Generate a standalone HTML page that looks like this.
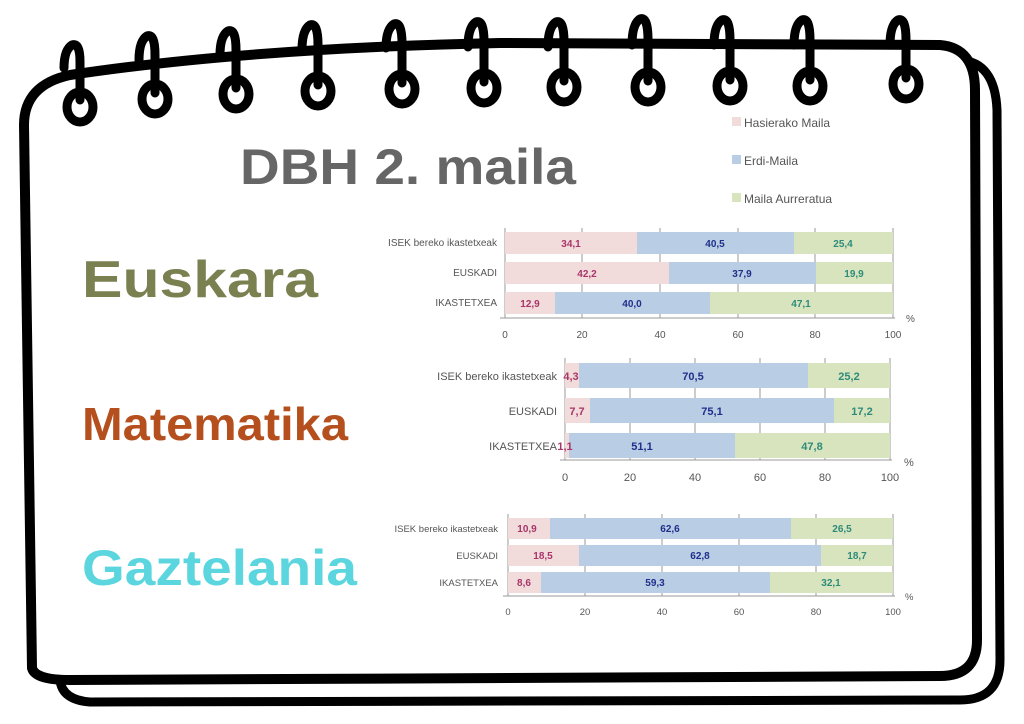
<!DOCTYPE html>
<html><head><meta charset="utf-8"><style>
html,body{margin:0;padding:0;background:#fff;}
svg{display:block;font-family:"Liberation Sans",sans-serif;}
</style></head><body>
<svg width="1024" height="724" viewBox="0 0 1024 724" xmlns="http://www.w3.org/2000/svg">
<!-- back frame -->
<path d="M960,60 Q995,62 997,110 L1000,660 Q1000,700 960,700 L90,702 Q62,700 60,680" fill="none" stroke="#000" stroke-width="9" stroke-linecap="round"/>
<!-- front frame -->
<path d="M32,668 L24,125 Q24,85 70,75 Q250,48 500,43 L940,45 Q975,48 975,90 L977,640 Q977,676 940,676 L70,680 Q35,680 32,668 Z" fill="#fff" stroke="#000" stroke-width="10" stroke-linejoin="round"/>
<!-- spirals -->
<g fill="none" stroke="#000" stroke-width="9" stroke-linecap="round">
<path d="M80,100 L80,62 Q80,42 72,45 Q64,50 64,68"/>
<ellipse cx="80" cy="107" rx="13" ry="15"/>
<path d="M155,93 L155,55 Q155,33 147,36 Q139,41 139,60"/>
<ellipse cx="155" cy="99" rx="13" ry="15"/>
<path d="M236,88 L236,50 Q236,28 228,31 Q220,36 220,55"/>
<ellipse cx="236" cy="94" rx="13" ry="15"/>
<path d="M318,85 L318,45 Q318,22 310,25 Q302,30 302,50"/>
<ellipse cx="318" cy="91" rx="13" ry="15"/>
<path d="M402,83 L402,44 Q402,21 394,24 Q386,29 386,48"/>
<ellipse cx="402" cy="89" rx="13" ry="15"/>
<path d="M484,82 L484,42 Q484,19 476,22 Q468,27 468,47"/>
<ellipse cx="484" cy="88" rx="13" ry="15"/>
<path d="M564,81 L564,42 Q564,19 556,22 Q548,27 548,47"/>
<ellipse cx="564" cy="87" rx="13" ry="15"/>
<path d="M648,81 L648,40 Q648,16 640,19 Q632,24 632,45"/>
<ellipse cx="648" cy="87" rx="13" ry="15"/>
<path d="M730,80 L730,40 Q730,17 722,20 Q714,25 714,45"/>
<ellipse cx="730" cy="86" rx="13" ry="15"/>
<path d="M810,80 L810,40 Q810,17 802,20 Q794,25 794,45"/>
<ellipse cx="810" cy="86" rx="13" ry="15"/>
<path d="M906,78 L906,40 Q906,17 898,20 Q890,25 890,45"/>
<ellipse cx="906" cy="84" rx="13" ry="15"/>
</g>
<!-- titles -->
<text x="240" y="184" font-size="50" font-weight="bold" fill="#666" textLength="336" lengthAdjust="spacingAndGlyphs">DBH 2. maila</text>
<text x="82" y="297" font-size="52" font-weight="bold" fill="#7a8050" textLength="236" lengthAdjust="spacingAndGlyphs">Euskara</text>
<text x="82" y="440" font-size="46" font-weight="bold" fill="#b5501e" textLength="266" lengthAdjust="spacingAndGlyphs">Matematika</text>
<text x="82" y="585" font-size="50" font-weight="bold" fill="#5cd6de" textLength="275" lengthAdjust="spacingAndGlyphs">Gaztelania</text>
<!-- legend -->
<g font-size="12" fill="#555">
<rect x="732" y="117" width="9" height="9" fill="#f2dcdb"/><text x="744" y="127">Hasierako Maila</text>
<rect x="732" y="155" width="9" height="9" fill="#b9cde5"/><text x="744" y="165">Erdi-Maila</text>
<rect x="732" y="193" width="9" height="9" fill="#d7e4bd"/><text x="744" y="203">Maila Aurreratua</text>
</g>
<!-- chart 1 grid -->
<g stroke="#999" stroke-width="1"><line x1="505" y1="228" x2="505" y2="318"/><line x1="500" y1="318" x2="895" y2="318"/>
<line x1="582" y1="228" x2="582" y2="318"/><line x1="660" y1="228" x2="660" y2="318"/><line x1="738" y1="228" x2="738" y2="318"/><line x1="815" y1="228" x2="815" y2="318"/><line x1="893" y1="228" x2="893" y2="318"/></g>
<g font-size="10" font-weight="bold">
<rect x="505" y="232" width="132" height="22" fill="#f2dcdb"/><rect x="637" y="232" width="157" height="22" fill="#b9cde5"/><rect x="794" y="232" width="99" height="22" fill="#d7e4bd"/>
<rect x="505" y="262" width="164" height="22" fill="#f2dcdb"/><rect x="669" y="262" width="147" height="22" fill="#b9cde5"/><rect x="816" y="262" width="77" height="22" fill="#d7e4bd"/>
<rect x="505" y="292" width="50" height="22" fill="#f2dcdb"/><rect x="555" y="292" width="155" height="22" fill="#b9cde5"/><rect x="710" y="292" width="183" height="22" fill="#d7e4bd"/>
<text x="571" y="247" fill="#a8356a" text-anchor="middle">34,1</text><text x="715" y="247" fill="#1f2f8a" text-anchor="middle">40,5</text><text x="843" y="247" fill="#2e8b7a" text-anchor="middle">25,4</text>
<text x="587" y="277" fill="#a8356a" text-anchor="middle">42,2</text><text x="742" y="277" fill="#1f2f8a" text-anchor="middle">37,9</text><text x="854" y="277" fill="#2e8b7a" text-anchor="middle">19,9</text>
<text x="530" y="307" fill="#a8356a" text-anchor="middle">12,9</text><text x="632" y="307" fill="#1f2f8a" text-anchor="middle">40,0</text><text x="801" y="307" fill="#2e8b7a" text-anchor="middle">47,1</text>
</g>
<g font-size="10" fill="#555">
<text x="497" y="246" text-anchor="end">ISEK bereko ikastetxeak</text><text x="497" y="276" text-anchor="end">EUSKADI</text><text x="497" y="306" text-anchor="end">IKASTETXEA</text>
<g text-anchor="middle"><text x="505" y="338">0</text><text x="582" y="338">20</text><text x="660" y="338">40</text><text x="738" y="338">60</text><text x="815" y="338">80</text><text x="893" y="338">100</text></g>
<text x="906" y="322">%</text></g>
<!-- chart 2 grid -->
<g stroke="#999" stroke-width="1"><line x1="565" y1="358" x2="565" y2="460"/><line x1="560" y1="460" x2="892" y2="460"/>
<line x1="630" y1="358" x2="630" y2="460"/><line x1="695" y1="358" x2="695" y2="460"/><line x1="760" y1="358" x2="760" y2="460"/><line x1="825" y1="358" x2="825" y2="460"/><line x1="890" y1="358" x2="890" y2="460"/></g>
<g font-size="11" font-weight="bold">
<rect x="565" y="363" width="14" height="25" fill="#f2dcdb"/><rect x="579" y="363" width="229" height="25" fill="#b9cde5"/><rect x="808" y="363" width="82" height="25" fill="#d7e4bd"/>
<rect x="565" y="398" width="25" height="25" fill="#f2dcdb"/><rect x="590" y="398" width="244" height="25" fill="#b9cde5"/><rect x="834" y="398" width="56" height="25" fill="#d7e4bd"/>
<rect x="565" y="433" width="4" height="25" fill="#f2dcdb"/><rect x="569" y="433" width="166" height="25" fill="#b9cde5"/><rect x="735" y="433" width="155" height="25" fill="#d7e4bd"/>
<text x="571" y="380" fill="#a8356a" text-anchor="middle">4,3</text><text x="693" y="380" fill="#1f2f8a" text-anchor="middle">70,5</text><text x="849" y="380" fill="#2e8b7a" text-anchor="middle">25,2</text>
<text x="577" y="415" fill="#a8356a" text-anchor="middle">7,7</text><text x="712" y="415" fill="#1f2f8a" text-anchor="middle">75,1</text><text x="862" y="415" fill="#2e8b7a" text-anchor="middle">17,2</text>
<text x="565" y="450" fill="#a8356a" text-anchor="middle">1,1</text><text x="642" y="450" fill="#1f2f8a" text-anchor="middle">51,1</text><text x="812" y="450" fill="#2e8b7a" text-anchor="middle">47,8</text>
</g>
<g font-size="11" fill="#555">
<text x="557" y="380" text-anchor="end">ISEK bereko ikastetxeak</text><text x="557" y="415" text-anchor="end">EUSKADI</text><text x="557" y="450" text-anchor="end">IKASTETXEA</text>
<g text-anchor="middle"><text x="565" y="481">0</text><text x="630" y="481">20</text><text x="695" y="481">40</text><text x="760" y="481">60</text><text x="825" y="481">80</text><text x="890" y="481">100</text></g>
<text x="904" y="466">%</text></g>
<!-- chart 3 grid -->
<g stroke="#999" stroke-width="1"><line x1="508" y1="514" x2="508" y2="596"/><line x1="503" y1="596" x2="895" y2="596"/>
<line x1="585" y1="514" x2="585" y2="596"/><line x1="662" y1="514" x2="662" y2="596"/><line x1="739" y1="514" x2="739" y2="596"/><line x1="816" y1="514" x2="816" y2="596"/><line x1="893" y1="514" x2="893" y2="596"/></g>
<g font-size="10" font-weight="bold">
<rect x="508" y="518" width="42" height="21" fill="#f2dcdb"/><rect x="550" y="518" width="241" height="21" fill="#b9cde5"/><rect x="791" y="518" width="102" height="21" fill="#d7e4bd"/>
<rect x="508" y="545" width="71" height="21" fill="#f2dcdb"/><rect x="579" y="545" width="242" height="21" fill="#b9cde5"/><rect x="821" y="545" width="72" height="21" fill="#d7e4bd"/>
<rect x="508" y="572" width="33" height="21" fill="#f2dcdb"/><rect x="541" y="572" width="229" height="21" fill="#b9cde5"/><rect x="770" y="572" width="123" height="21" fill="#d7e4bd"/>
<text x="527" y="532" fill="#a8356a" text-anchor="middle">10,9</text><text x="670" y="532" fill="#1f2f8a" text-anchor="middle">62,6</text><text x="842" y="532" fill="#2e8b7a" text-anchor="middle">26,5</text>
<text x="543" y="559" fill="#a8356a" text-anchor="middle">18,5</text><text x="700" y="559" fill="#1f2f8a" text-anchor="middle">62,8</text><text x="857" y="559" fill="#2e8b7a" text-anchor="middle">18,7</text>
<text x="524" y="586" fill="#a8356a" text-anchor="middle">8,6</text><text x="655" y="586" fill="#1f2f8a" text-anchor="middle">59,3</text><text x="831" y="586" fill="#2e8b7a" text-anchor="middle">32,1</text>
</g>
<g font-size="9.5" fill="#555">
<text x="498" y="532" text-anchor="end">ISEK bereko ikastetxeak</text><text x="498" y="559" text-anchor="end">EUSKADI</text><text x="498" y="586" text-anchor="end">IKASTETXEA</text>
<g text-anchor="middle"><text x="508" y="615">0</text><text x="585" y="615">20</text><text x="662" y="615">40</text><text x="739" y="615">60</text><text x="816" y="615">80</text><text x="893" y="615">100</text></g>
<text x="905" y="600">%</text></g>
</svg>
</body></html>
